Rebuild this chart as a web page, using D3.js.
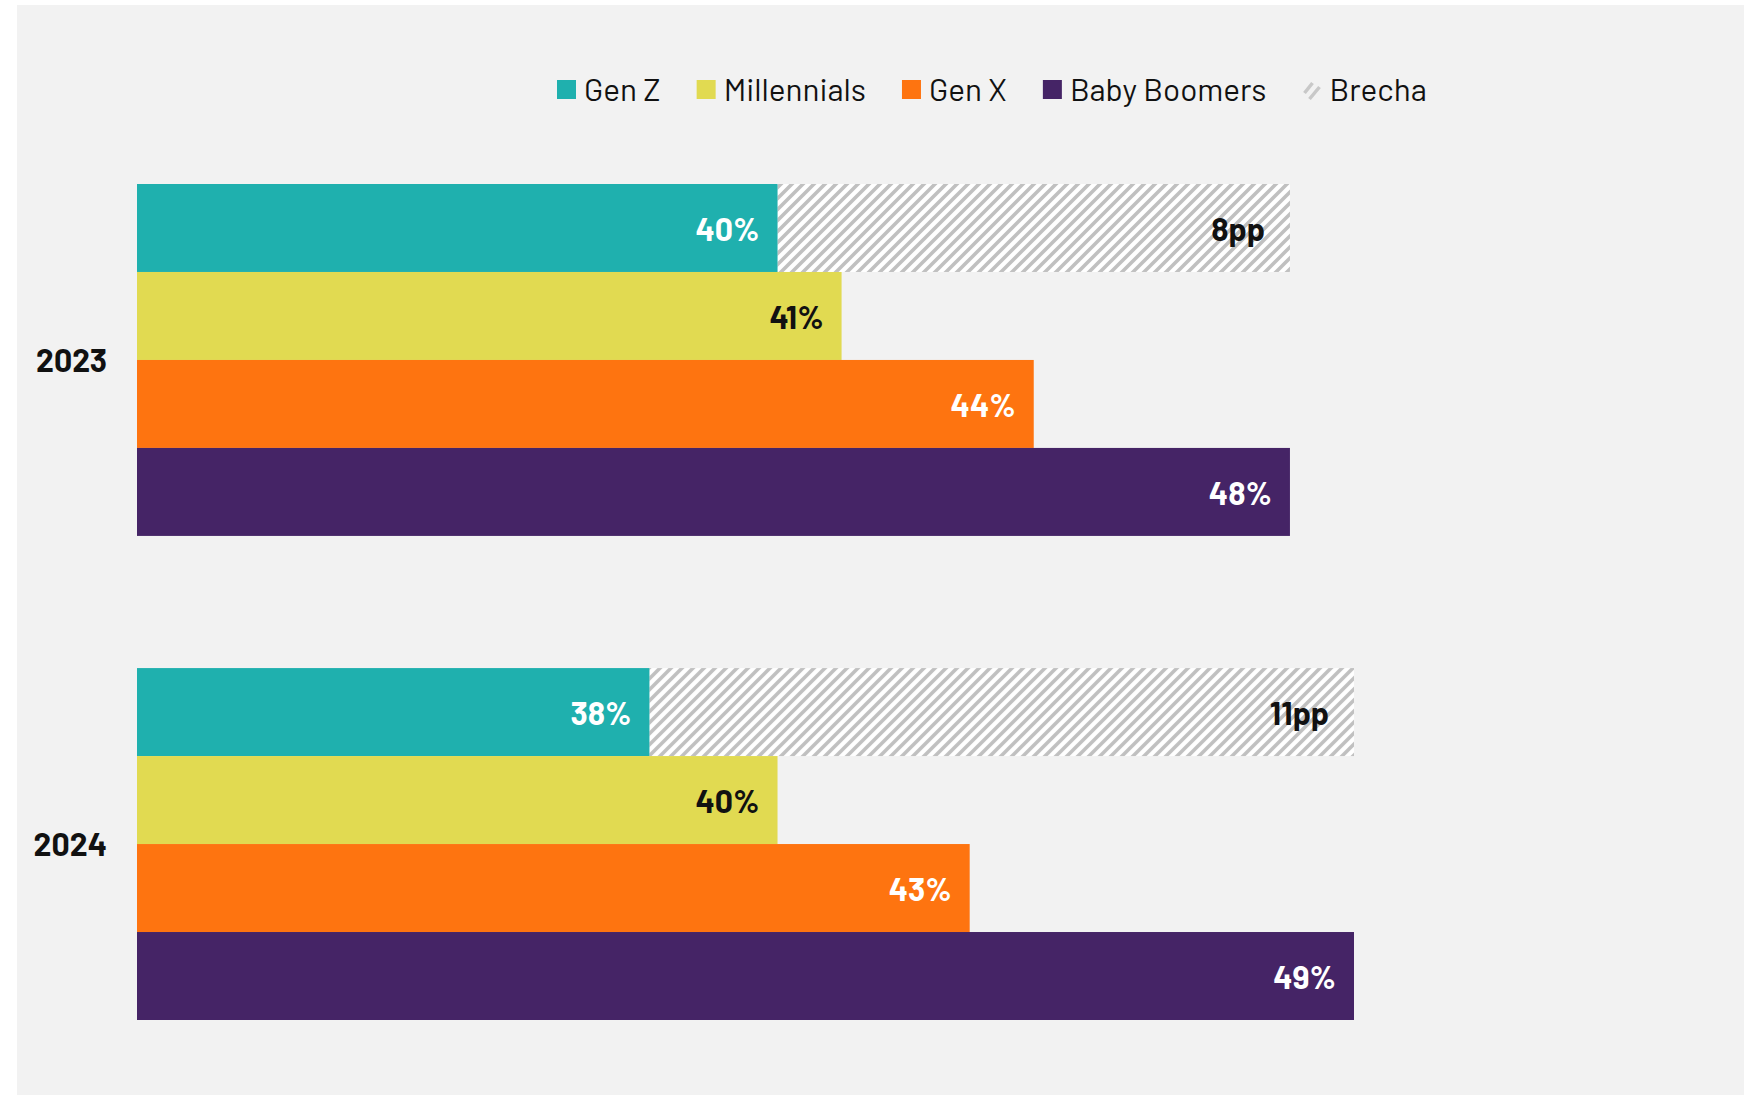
<!DOCTYPE html>
<html>
<head>
<meta charset="utf-8">
<script src="https://cdn.jsdelivr.net/npm/d3@7"></script>
<style>
  body { margin: 0; background: #ffffff; }
  svg text { font-family: 'Barlow', 'Roboto', 'Inter', sans-serif; }
</style>
</head>
<body>
<svg id="chart"></svg>
<script>
// data
const years = ["2023", "2024"];
const seriesNames = ["Gen Z", "Millennials", "Gen X", "Baby Boomers"];
const genZ = [40, 38];
const millennials = [41, 40];
const genX = [44, 43];
const babyBoomers = [48, 49];
const brecha = [8, 11];
const legendNames = ["Gen Z", "Millennials", "Gen X", "Baby Boomers", "Brecha"];

const colors = ["#1fb0ae", "#e1da51", "#fe7410", "#452466"];
const labelColors = ["#ffffff", "#111111", "#ffffff", "#ffffff"];

const width = 1757, height = 1096;
const svg = d3.select("#chart").attr("width", width).attr("height", height);

// hatch pattern for the gap
const defs = svg.append("defs");
const pat = defs.append("pattern")
    .attr("id", "hatch")
    .attr("patternUnits", "userSpaceOnUse")
    .attr("width", 11).attr("height", 11);
pat.append("rect").attr("width", 11).attr("height", 11).attr("fill", "#ffffff");
pat.append("path")
    .attr("d", "M-2,2 l4,-4 M0,11 l11,-11 M9,13 l4,-4")
    .attr("stroke", "#c0c0c0")
    .attr("stroke-width", 3.6);

// panel
svg.append("rect")
    .attr("x", 17).attr("y", 5)
    .attr("width", 1744 - 17).attr("height", 1095 - 5)
    .attr("fill", "#f2f2f2");

const x = d3.scaleLinear().domain([30, 49]).range([137, 1354]);
const yGroup = d3.scaleBand().domain(years).range([184, 1020]).paddingInner(0.273);
const yBar = d3.scaleBand().domain(seriesNames).range([0, yGroup.bandwidth()]);

const table = years.map((yr, i) => ({
  year: yr,
  values: [genZ[i], millennials[i], genX[i], babyBoomers[i]],
  gap: brecha[i]
}));

const groups = svg.append("g").selectAll("g.group")
    .data(table)
    .join("g")
    .attr("class", "group")
    .attr("transform", d => `translate(0,${yGroup(d.year)})`);

// gap bar (hatched) next to Gen Z
groups.append("rect")
    .attr("x", d => x(d.values[0]))
    .attr("y", yBar("Gen Z"))
    .attr("width", d => x(d.values[0] + d.gap) - x(d.values[0]))
    .attr("height", yBar.bandwidth())
    .attr("fill", "url(#hatch)");

groups.selectAll("rect.bar")
    .data(d => d.values.map((v, j) => ({name: seriesNames[j], value: v, j: j})))
    .join("rect")
    .attr("class", "bar")
    .attr("x", x(30))
    .attr("y", d => yBar(d.name))
    .attr("width", d => x(d.value) - x(30))
    .attr("height", yBar.bandwidth())
    .attr("fill", d => colors[d.j]);

groups.selectAll("text.val")
    .data(d => d.values.map((v, j) => ({name: seriesNames[j], value: v, j: j})))
    .join("text")
    .attr("class", "val")
    .attr("x", d => x(d.value) - 18)
    .attr("y", d => yBar(d.name) + yBar.bandwidth() / 2 + 13)
    .attr("text-anchor", "end")
    .attr("font-size", "32px")
    .attr("font-weight", "700")
    .attr("fill", d => labelColors[d.j])
    .text(d => d.value + "%");

groups.append("text")
    .attr("x", d => x(d.values[0] + d.gap) - 25)
    .attr("y", yBar("Gen Z") + yBar.bandwidth() / 2 + 13)
    .attr("text-anchor", "end")
    .attr("font-size", "32px")
    .attr("font-weight", "700")
    .attr("fill", "#111111")
    .text(d => d.gap + "pp");

// year labels
groups.append("text")
    .attr("x", 107)
    .attr("y", yGroup.bandwidth() / 2 + 12)
    .attr("text-anchor", "end")
    .attr("font-size", "32px")
    .attr("font-weight", "700")
    .attr("fill", "#111111")
    .text(d => d.year);

// legend
const legend = svg.append("g").attr("class", "legend");
let lx = 557;
legendNames.forEach((name, i) => {
  const item = legend.append("g").attr("transform", `translate(${lx},80)`);
  if (i < 4) {
    item.append("rect").attr("width", 19).attr("height", 19).attr("fill", colors[i]);
  } else {
    item.append("path")
        .attr("d", "M2,13 l8,-10 M7,19 l10,-12")
        .attr("stroke", "#c8c8c8")
        .attr("stroke-width", 3.5)
        .attr("fill", "none");
  }
  const t = item.append("text")
      .attr("x", 27).attr("y", 21)
      .attr("font-size", "31.5px")
      .attr("fill", "#111111")
      .text(name);
  lx += 27 + t.node().getComputedTextLength() + 36;
});
</script>
</body>
</html>
